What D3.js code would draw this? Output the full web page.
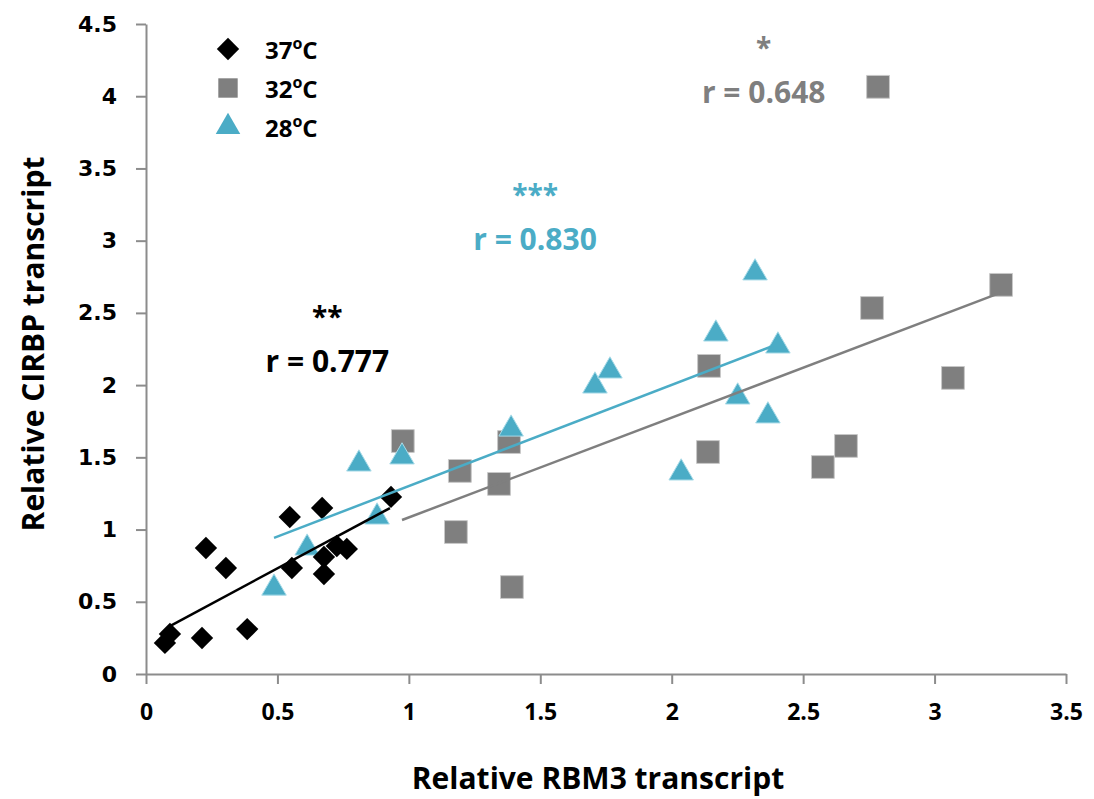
<!DOCTYPE html>
<html>
<head>
<meta charset="utf-8">
<script src="https://cdn.jsdelivr.net/npm/d3@7"></script>
<style>
  body { margin: 0; background: #fff; }
  text { font-family: "Open Sans", sans-serif; font-weight: bold; }
  .y-tick text { font-family: "DejaVu Sans", sans-serif; }
</style>
</head>
<body>
<svg id="chart" width="1094" height="799"></svg>
<script>
// data
var xTicks = [0, 0.5, 1, 1.5, 2, 2.5, 3, 3.5];
var yTicks = [0, 0.5, 1, 1.5, 2, 2.5, 3, 3.5, 4, 4.5];
var yTickLabels = ["0", "0.5", "1", "1.5", "2", "2.5", "3", "3.5", "4", "4.5"];

var temps = ["37", "32", "28"];
var colors = ["#000000", "#7f7f7f", "#4bacc6"];

var x37 = [0.072, 0.091, 0.213, 0.385, 0.228, 0.304, 0.547, 0.670, 0.555, 0.677, 0.677, 0.726, 0.764, 0.932];
var y37 = [0.215, 0.277, 0.249, 0.311, 0.872, 0.734, 1.087, 1.149, 0.734, 0.692, 0.810, 0.886, 0.866, 1.226];

var x32 = [0.977, 1.179, 1.194, 1.343, 1.381, 1.392, 2.138, 2.142, 2.575, 2.663, 2.762, 2.785, 3.070, 3.253];
var y32 = [1.613, 0.983, 1.406, 1.316, 1.606, 0.602, 1.537, 2.133, 1.433, 1.579, 2.534, 4.065, 2.050, 2.694];

var x28 = [0.487, 0.613, 0.810, 0.974, 0.879, 1.389, 1.708, 1.765, 2.036, 2.251, 2.366, 2.317, 2.168, 2.404];
var y28 = [0.595, 0.872, 1.454, 1.503, 1.087, 1.696, 1.994, 2.098, 1.392, 1.918, 1.787, 2.777, 2.354, 2.271];

// trend line end points [x0, y0, x1, y1]
var fit37 = [0.091, 0.332, 0.928, 1.149];
var fit32 = [0.974, 1.066, 3.249, 2.638];
var fit28 = [0.487, 0.942, 2.385, 2.271];

var rLabels = ["r = 0.777", "r = 0.648", "r = 0.830"];
var stars = ["**", "*", "***"];
// label anchor in data units [x, y]
var rPos = [[0.69, 2.17], [2.35, 4.03], [1.48, 3.01]];

var W = 1094, H = 799;
var margin = {left: 146, right: 28, top: 24, bottom: 125};

var svg = d3.select("#chart");

var x = d3.scaleLinear().domain([0, 3.5]).range([margin.left, W - margin.right]);
var y = d3.scaleLinear().domain([0, 4.5]).range([H - margin.bottom, margin.top]);

// axes
var xAxis = svg.append("g")
  .attr("class", "x-tick")
  .attr("transform", "translate(0," + y(0) + ")")
  .call(d3.axisBottom(x).tickValues(xTicks).tickSize(10).tickSizeOuter(0).tickPadding(20)
    .tickFormat(function(d){ return d3.format("")(d); }));

var yAxis = svg.append("g")
  .attr("class", "y-tick")
  .attr("transform", "translate(" + x(0) + ",0)")
  .call(d3.axisLeft(y).tickValues(yTicks).tickSize(10).tickSizeOuter(0).tickPadding(19)
    .tickFormat(function(d, i){ return yTickLabels[i]; }));

svg.selectAll(".domain, .tick line").attr("stroke", "#8c8c8c").attr("stroke-width", 2);
xAxis.selectAll("text").attr("font-size", 23).attr("fill", "#000");
yAxis.selectAll("text").attr("font-size", 22).attr("fill", "#000");

// axis titles
svg.append("text")
  .attr("text-anchor", "middle")
  .attr("x", 598).attr("y", 789)
  .attr("font-size", 30)
  .text("Relative RBM3 transcript");

svg.append("text")
  .attr("text-anchor", "middle")
  .attr("transform", "translate(44," + ((margin.top + H - margin.bottom) / 2 - 5) + ") rotate(-90)")
  .attr("font-size", 30)
  .text("Relative CIRBP transcript");

// marker shapes
var diamond = d3.symbol().type(d3.symbolSquare).size(250);
var square = d3.symbol().type(d3.symbolSquare).size(520);
var triangle = d3.symbol().type(d3.symbolTriangle).size(260);

function drawFit(f, color, w){
  svg.append("line")
    .attr("x1", x(f[0])).attr("y1", y(f[1]))
    .attr("x2", x(f[2])).attr("y2", y(f[3]))
    .attr("stroke", color).attr("stroke-width", w);
}

// squares (drawn first, under the rest)
svg.append("g").selectAll("path")
  .data(d3.zip(x32, y32))
  .enter().append("path")
  .attr("d", square)
  .attr("transform", function(d){ return "translate(" + x(d[0]) + "," + y(d[1]) + ")"; })
  .attr("fill", colors[1])
  .attr("stroke", "#c8c8c8").attr("stroke-width", 1);

svg.append("g").selectAll("path")
  .data(d3.zip(x28, y28))
  .enter().append("path")
  .attr("d", triangle)
  .attr("transform", function(d){ return "translate(" + x(d[0]) + "," + y(d[1]) + ")"; })
  .attr("fill", colors[2])
  .attr("stroke", "#a8dbe8").attr("stroke-width", 1);

svg.append("g").selectAll("path")
  .data(d3.zip(x37, y37))
  .enter().append("path")
  .attr("d", diamond)
  .attr("transform", function(d){ return "translate(" + x(d[0]) + "," + y(d[1]) + ") rotate(45)"; })
  .attr("fill", colors[0]);

drawFit(fit32, colors[1], 2.5);
drawFit(fit28, colors[2], 2.5);
drawFit(fit37, colors[0], 2.5);

// r labels and stars
rLabels.forEach(function(lab, i){
  svg.append("text")
    .attr("text-anchor", "middle")
    .attr("x", x(rPos[i][0])).attr("y", y(rPos[i][1]) - 34)
    .attr("font-size", 28)
    .attr("fill", colors[i])
    .text(stars[i]);
  svg.append("text")
    .attr("text-anchor", "middle")
    .attr("x", x(rPos[i][0])).attr("y", y(rPos[i][1]) + 11)
    .attr("font-size", 30)
    .attr("fill", colors[i])
    .text(lab);
});

// legend
var legendShapes = [diamond, square, triangle];
var legend = svg.append("g").attr("transform", "translate(228,49)");
temps.forEach(function(t, i){
  var row = legend.append("g").attr("transform", "translate(0," + (i * 39) + ")");
  row.append("path")
    .attr("d", legendShapes[i])
    .attr("transform", i === 0 ? "rotate(45)" : (i === 1 ? "scale(0.85)" : ""))
    .attr("fill", colors[i]);
  var txt = row.append("text")
    .attr("x", 37).attr("y", 10)
    .attr("font-size", 24)
    .attr("fill", "#000");
  txt.append("tspan").text(t);
  txt.append("tspan").attr("dy", -10).attr("font-size", 16).text("o");
  txt.append("tspan").attr("dy", 10).text("C");
});
</script>
</body>
</html>
